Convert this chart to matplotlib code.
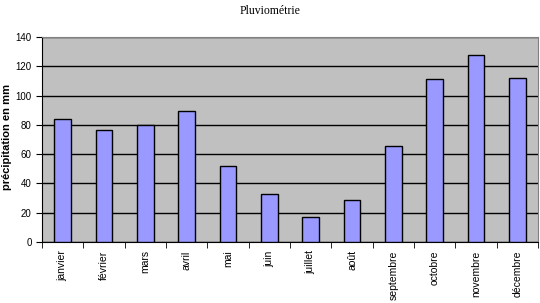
import numpy as np
import matplotlib
matplotlib.use("Agg")
import matplotlib.pyplot as plt

mois = ['janvier', 'février', 'mars', 'avril', 'mai', 'juin', 'juillet',
        'août', 'septembre', 'octobre', 'novembre', 'décembre']
precip = [84, 76.5, 80, 89.5, 52, 33, 17, 28.7, 65.5, 111, 127.5, 112]
yticks = [0, 20, 40, 60, 80, 100, 120, 140]

fig = plt.figure(figsize=(5.4, 3.03), dpi=100)
ax = fig.add_axes([42 / 540, 61 / 303, 496 / 540, 205 / 303])
ax.set_facecolor('#c0c0c0')

x = np.arange(len(mois))
ax.bar(x, precip, width=0.4, color='#9999ff', edgecolor='black', linewidth=1, zorder=3)

ax.set_xlim(-0.5, len(mois) - 0.5)
ax.set_ylim(0, 140)
ax.set_yticks(yticks)
ax.yaxis.grid(True, color='black', linewidth=1, zorder=1)
ax.set_axisbelow(True)

# ticks between categories, labels centred
ax.set_xticks(x)
ax.set_xticklabels(mois, rotation=90, fontsize=7.5, family='Liberation Sans')
ax.tick_params(axis='x', which='major', length=0, pad=6)
ax.set_xticks(np.arange(-0.5, len(mois)), minor=True)
ax.tick_params(axis='x', which='minor', length=4, color='black', direction='out')
ax.tick_params(axis='y', length=4, labelsize=7, color='black')
for lab in ax.get_yticklabels():
    lab.set_family('Liberation Sans')

for s in ['top', 'right']:
    ax.spines[s].set_color('#808080')
for s in ['left', 'bottom']:
    ax.spines[s].set_color('black')

fig.text(7 / 540, 1 - 137 / 303, 'précipitation en mm', rotation=90,
         ha='center', va='center', fontsize=8, fontweight='bold',
         family='Liberation Sans')
fig.text(0.5, 0.965, 'Pluviométrie', ha='center', va='center',
         fontsize=8.5, family='Liberation Serif')

fig.savefig('out.png', dpi=100)
